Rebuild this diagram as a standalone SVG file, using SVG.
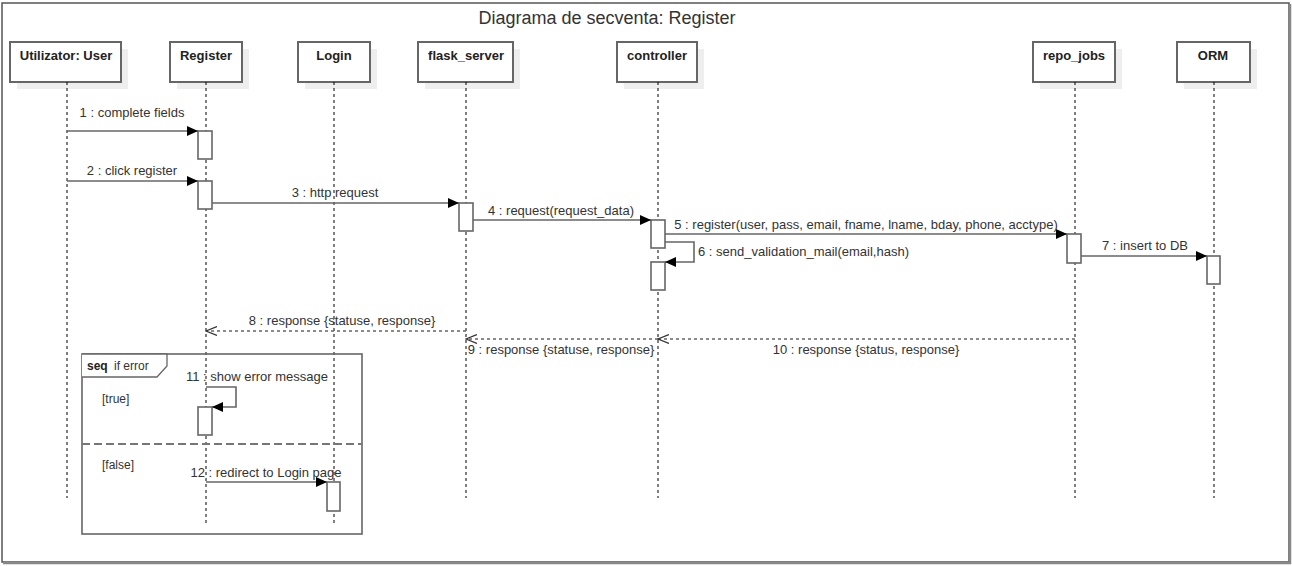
<svg xmlns="http://www.w3.org/2000/svg" width="1292" height="566" viewBox="0 0 1292 566">
<style>
text{font-family:"Liberation Sans",Arial,sans-serif;font-size:13px;fill:#333}
.hd{font-weight:bold;fill:#222;text-anchor:middle}
.box{fill:#fff;stroke:#666;stroke-width:2}
.sh{fill:#eeeeee}
.life{stroke:#000;stroke-width:1;stroke-dasharray:3,3;fill:none}
.act{fill:#fff;stroke:#666;stroke-width:1.6}
.msg{stroke:#666;stroke-width:1.6;fill:none}
.ret{stroke:#666;stroke-width:1.6;fill:none;stroke-dasharray:3,3}
.lbl{text-anchor:middle}
</style>
<defs>
<marker id="fa" markerWidth="12" markerHeight="10" refX="11" refY="5" orient="auto" markerUnits="userSpaceOnUse">
<path d="M0,0 L11,5 L0,10 z" fill="#000"/>
</marker>
<marker id="oa" markerWidth="12" markerHeight="10" refX="11" refY="5" orient="auto" markerUnits="userSpaceOnUse">
<path d="M0,0.5 L11,5 L0,9.5" fill="none" stroke="#333" stroke-width="1.2"/>
</marker>
</defs>
<rect x="0" y="0" width="1292" height="566" fill="#fff"/>
<g id="frame">
<rect x="2" y="3" width="1287" height="559" fill="#fff" stroke="#555" stroke-width="1.5"/>
<path d="M1290,4 V563 H3" fill="none" stroke="#888" stroke-width="2.5"/>
<text x="607" y="24" style="font-size:18px;text-anchor:middle">Diagrama de secventa: Register</text>
</g>
<g id="user">
<rect class="sh" x="17" y="49" width="111" height="40"/>
<rect class="box" x="10" y="42" width="111" height="40"/>
<text class="hd" x="66" y="60">Utilizator: User</text>
<line class="life" x1="67" y1="82" x2="67" y2="498"/>
</g>
<g id="register">
<rect class="sh" x="177" y="49" width="72" height="40"/>
<rect class="box" x="170" y="42" width="72" height="40"/>
<text class="hd" x="206" y="60">Register</text>
<line class="life" x1="206" y1="82" x2="206" y2="523"/>
</g>
<g id="login">
<rect class="sh" x="305" y="49" width="72" height="40"/>
<rect class="box" x="298" y="42" width="72" height="40"/>
<text class="hd" x="334" y="60">Login</text>
<line class="life" x1="334" y1="82" x2="334" y2="523"/>
</g>
<g id="flask_server">
<rect class="sh" x="425" y="49" width="95" height="40"/>
<rect class="box" x="418" y="42" width="95" height="40"/>
<text class="hd" x="466" y="60">flask_server</text>
<line class="life" x1="466" y1="82" x2="466" y2="498"/>
</g>
<g id="controller">
<rect class="sh" x="624" y="49" width="80" height="40"/>
<rect class="box" x="617" y="42" width="80" height="40"/>
<text class="hd" x="657" y="60">controller</text>
<line class="life" x1="658" y1="82" x2="658" y2="498"/>
</g>
<g id="repo_jobs">
<rect class="sh" x="1040" y="49" width="82" height="40"/>
<rect class="box" x="1033" y="42" width="82" height="40"/>
<text class="hd" x="1074" y="60">repo_jobs</text>
<line class="life" x1="1075" y1="82" x2="1075" y2="498"/>
</g>
<g id="orm">
<rect class="sh" x="1184" y="49" width="73" height="40"/>
<rect class="box" x="1177" y="42" width="73" height="40"/>
<text class="hd" x="1213" y="60">ORM</text>
<line class="life" x1="1214" y1="82" x2="1214" y2="498"/>
</g>
<g id="fragment">
<rect x="82" y="354" width="280" height="180" fill="none" stroke="#666" stroke-width="1.6"/>
<path d="M82,354 H167 V366 L157,377 H82" fill="#fff" stroke="#666" stroke-width="1.3"/>
<text x="87" y="370" style="font-size:12px;font-weight:bold;fill:#222">seq</text>
<text x="114" y="370" style="font-size:12px">if error</text>
<line x1="82" y1="444" x2="362" y2="444" stroke="#777" stroke-width="2" stroke-dasharray="8,4"/>
<text x="102" y="403" style="font-size:12px">[true]</text>
<text x="102" y="469" style="font-size:12px">[false]</text>
</g>
<g id="activations">
<rect class="act" x="198" y="131" width="14" height="28"/>
<rect class="act" x="198" y="181" width="14" height="28"/>
<rect class="act" x="459" y="203" width="14" height="28"/>
<rect class="act" x="651" y="220" width="14" height="28"/>
<rect class="act" x="651" y="262" width="14" height="28"/>
<rect class="act" x="1067" y="234" width="14" height="29"/>
<rect class="act" x="1207" y="256" width="13" height="28"/>
<rect class="act" x="198" y="407" width="14" height="28"/>
<rect class="act" x="327" y="482" width="13" height="29"/>
</g>
<g id="connectors">
<line class="msg" x1="67" y1="131" x2="198" y2="131" marker-end="url(#fa)"/>
<text class="lbl" x="132" y="117">1 : complete fields</text>
<line class="msg" x1="67" y1="181" x2="198" y2="181" marker-end="url(#fa)"/>
<text class="lbl" x="132" y="175">2 : click register</text>
<line class="msg" x1="212" y1="203" x2="459" y2="203" marker-end="url(#fa)"/>
<text class="lbl" x="335" y="197">3 : http request</text>
<line class="msg" x1="473" y1="220" x2="651" y2="220" marker-end="url(#fa)"/>
<text class="lbl" x="561" y="215">4 : request(request_data)</text>
<line class="msg" x1="665" y1="234" x2="1067" y2="234" marker-end="url(#fa)"/>
<text class="lbl" x="866" y="229">5 : register(user, pass, email, fname, lname, bday, phone, acctype)</text>
<path class="msg" d="M665,242 H694 V262 H665" marker-end="url(#fa)"/>
<text x="698" y="256">6 : send_validation_mail(email,hash)</text>
<line class="msg" x1="1081" y1="256" x2="1207" y2="256" marker-end="url(#fa)"/>
<text class="lbl" x="1145" y="250">7 : insert to DB</text>
<line class="ret" x1="466" y1="331" x2="206" y2="331" marker-end="url(#oa)"/>
<text class="lbl" x="342" y="325">8 : response {statuse, response}</text>
<line class="ret" x1="658" y1="339" x2="466" y2="339" marker-end="url(#oa)"/>
<text class="lbl" x="561" y="354">9 : response {statuse, response}</text>
<line class="ret" x1="1075" y1="339" x2="658" y2="339" marker-end="url(#oa)"/>
<text class="lbl" x="866" y="354">10 : response {status, response}</text>
<path class="msg" d="M206,387 H236 V407 H212" marker-end="url(#fa)"/>
<text class="lbl" x="257" y="381">11 : show error message</text>
<line class="msg" x1="206" y1="482" x2="327" y2="482" marker-end="url(#fa)"/>
<text class="lbl" x="266" y="477">12 : redirect to Login page</text>
</g>
</svg>
